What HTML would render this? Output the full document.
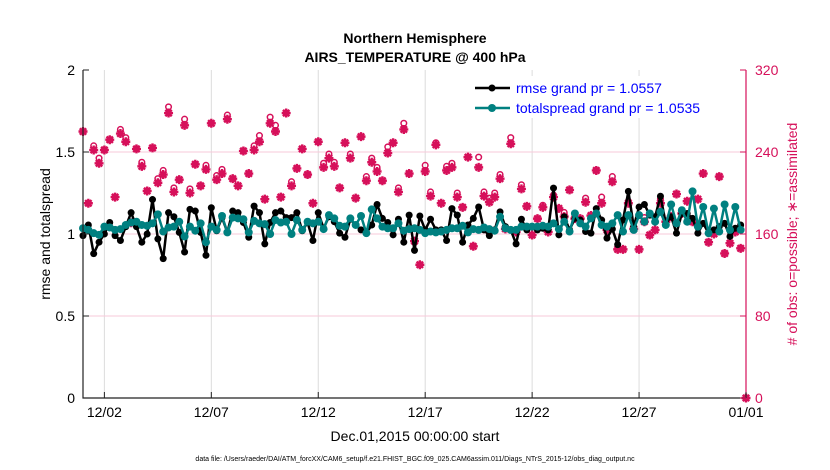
<!DOCTYPE html>
<html><head><meta charset="utf-8"><style>
body{margin:0;background:#fff;}
svg{display:block;font-family:"Liberation Sans",sans-serif;}
</style></head><body>
<svg id="c" width="830" height="470">
<rect x="0" y="0" width="830" height="470" fill="#fff"/>
<g id="grid"></g><g id="obs"></g><g id="series"></g><g id="axes"></g>
<text x="415" y="43" text-anchor="middle" font-size="14" font-weight="bold">Northern Hemisphere</text>
<text x="415" y="62" text-anchor="middle" font-size="14" font-weight="bold">AIRS_TEMPERATURE @ 400 hPa</text>
<text transform="translate(50,234) rotate(-90)" text-anchor="middle" font-size="14">rmse and totalspread</text>
<text transform="translate(797,234) rotate(-90)" text-anchor="middle" font-size="14" fill="#d6105a"># of obs: o=possible; ∗=assimilated</text>
<text x="415" y="441" text-anchor="middle" font-size="14">Dec.01,2015 00:00:00 start</text>
<text x="415" y="461" text-anchor="middle" font-size="7">data file: /Users/raeder/DAI/ATM_forcXX/CAM6_setup/f.e21.FHIST_BGC.f09_025.CAM6assim.011/Diags_NTrS_2015-12/obs_diag_output.nc</text>
<g>
<rect x="468" y="76" width="274" height="42" fill="#fff"/>
<line x1="475" y1="88" x2="510" y2="88" stroke="#000" stroke-width="2.5"/><circle cx="492" cy="88" r="3.5" fill="#000"/>
<text x="516" y="93" font-size="14" fill="#0000ff">rmse grand pr = 1.0557</text>
<line x1="475" y1="108" x2="510" y2="108" stroke="#008080" stroke-width="2.5"/><circle cx="492" cy="108" r="4" fill="#008080"/>
<text x="516" y="113" font-size="14" fill="#0000ff">totalspread grand pr = 1.0535</text>
</g>
</svg>
<script>
const rmse=[0.99,1.055,0.88,0.95,1.0,1.07,0.99,0.96,1.045,1.13,1.045,0.95,1.0,1.21,0.97,0.85,1.13,1.105,1.01,0.89,1.15,1.14,1.01,0.87,1.16,1.02,1.1,1.01,1.14,1.13,1.07,0.98,1.17,1.13,0.94,1.07,1.13,1.14,1.1,1.1,1.13,1.02,1.07,
0.96,1.13,1.035,1.105,1.075,1.005,0.98,1.09,1.055,1.025,1.005,1.055,1.18,1.095,1.07,0.995,1.09,0.95,1.115,0.9,1.11,1.025,1.09,1.025,1.025,0.96,1.155,1.115,0.95,1.055,1.095,1.165,1.025,0.99,1.025,1.135,1.045,1.025,0.94,1.09,1.025,
1.045,1.025,1.035,1.025,1.28,0.995,1.105,1.025,1.095,1.085,1.015,1.005,1.155,1.085,0.975,1.03,0.935,1.085,1.26,1.045,1.165,1.18,1.115,1.105,1.23,1.065,1.105,1.005,1.125,1.125,1.095,1.005,1.065,1.005,1.025,1.045,1.065,0.985,1.035,1.055];
const spread=[1.035,1.025,1.005,0.995,1.045,1.04,1.025,1.03,1.055,1.07,1.075,1.055,1.05,1.065,1.12,1.015,1.04,1.045,1.075,0.985,1.045,1.02,1.065,0.95,1.045,1.025,1.11,1.01,1.1,1.095,1.09,1.01,1.08,1.065,1.06,1.0,1.085,1.07,1.075,1.0,1.085,1.025,1.075,
1.065,1.075,1.03,1.115,1.095,1.05,1.045,1.095,1.055,1.11,1.005,1.15,1.095,1.045,1.035,1.035,1.065,1.02,1.03,1.035,1.025,1.005,1.015,1.01,1.015,1.025,1.035,1.035,1.05,1.01,1.03,1.025,1.04,1.03,1.02,1.105,1.035,1.025,1.025,1.045,1.045,
1.045,1.045,1.05,1.045,1.065,1.03,1.075,1.015,1.125,1.065,1.045,1.095,1.125,1.055,1.045,1.065,1.115,1.015,1.115,1.025,1.115,1.075,1.125,1.075,1.135,1.055,1.18,1.065,1.145,1.075,1.26,1.045,1.165,1.005,1.155,1.015,1.18,1.025,1.165,1.025];
const obsAssim=[260,190,242,229,242,252,196,258,250,171,243,226,202,244,210,218,278,201,213,266,200,228,207,223,268,213,219,272,214,207,241,219,242,250,194,268,260,196,278,207,224,243,218,
190,250,225,234,226,205,249,234,195,255,212,230,221,212,239,249,201,262,219,153,130,221,197,247,190,222,225,196,186,235,148,225,197,191,196,214,165,248,162,204,187,
159,175,186,162,196,185,177,203,175,175,191,178,222,190,164,211,145,145,190,165,145,172,159,164,190,172,177,199,180,192,172,194,219,152,160,216,141,151,162,146,0];
const obsPoss=[260,190,246,234,242,252,196,262,254,171,243,230,202,244,214,222,284,205,213,272,204,228,207,227,268,217,223,276,214,207,241,219,246,256,194,274,266,196,278,211,224,243,218,
190,250,229,238,230,205,249,238,195,255,216,234,225,212,245,249,205,268,219,153,130,227,201,249,190,226,229,200,186,235,148,235,201,195,200,218,165,254,162,208,187,
159,175,188,162,198,185,181,203,175,175,195,178,222,196,164,216,145,145,192,165,145,176,159,164,194,172,177,199,182,192,172,194,219,152,160,216,141,151,162,146,0];
const xTickLabels=["12/02","12/07","12/12","12/17","12/22","12/27","01/01"];
const xTickDays=[1,6,11,16,21,26,31];
const yTicks=[0,0.5,1,1.5,2];
const rTicks=[0,80,160,240,320];

const NS='http://www.w3.org/2000/svg';
const X0=83,X1=746,Y0=398,Y1=70;
const xDay=d=>X0+(X1-X0)*d/31;
const xIdx=i=>xDay(i/4);
const yL=v=>Y0-(Y0-Y1)*v/2;
const yR=v=>Y0-(Y0-Y1)*v/320;
function mk(tag,attrs,parent){const e=document.createElementNS(NS,tag);for(const k in attrs)e.setAttribute(k,attrs[k]);document.getElementById(parent).appendChild(e);return e;}
const PINK='#d6105a';
xTickDays.forEach((d,i)=>{const g=mk('line',{x1:xDay(d),x2:xDay(d),y1:Y1,y2:Y0,stroke:'#dcdcdc','stroke-width':1},'grid');

});
rTicks.slice(1,4).forEach(v=>{const g=mk('line',{x1:X0,x2:X1,y1:yR(v),y2:yR(v),stroke:'#f7c9da','stroke-width':1},'grid');

});
obsPoss.forEach((v,i)=>{const c=mk('circle',{cx:xIdx(i),cy:yR(v),r:2.8,fill:'none',stroke:PINK,'stroke-width':1.5},'obs');

});
obsAssim.forEach((v,i)=>{const x=xIdx(i),y=yR(v),s=4.5;
const p=mk('path',{d:`M${x-s},${y}H${x+s}M${x},${y-s}V${y+s}M${x-3.2},${y-3.2}L${x+3.2},${y+3.2}M${x-3.2},${y+3.2}L${x+3.2},${y-3.2}`,stroke:PINK,'stroke-width':2.4},'obs');

});
function series(arr,color,r,name){
const pts=arr.map((v,i)=>xIdx(i)+','+yL(v)).join(' ');
const l=mk('polyline',{points:pts,fill:'none',stroke:color,'stroke-width':2.5,'stroke-linejoin':'round'},'series');


arr.forEach((v,i)=>{const c=mk('circle',{cx:xIdx(i),cy:yL(v),r:r,fill:color},'series');

});}
series(rmse,'#000',3.5,'rmse');
series(spread,'#008080',4,'totalspread');
const ax=mk('path',{d:`M${X0},${Y1}V${Y0}H${X1}`,fill:'none',stroke:'#222','stroke-width':1.2},'axes');


const ra=mk('line',{x1:X1,x2:X1,y1:Y1,y2:Y0,stroke:PINK,'stroke-width':1.2},'axes');


xTickDays.forEach((d,i)=>{const x=xDay(d);
mk('line',{x1:x,x2:x,y1:Y0,y2:Y0-6,stroke:'#222'},'axes');
const t=mk('text',{x:x,y:Y0+19,'text-anchor':'middle','font-size':14},'axes');t.textContent=xTickLabels[i];

});
yTicks.forEach(v=>{const y=yL(v);
mk('line',{x1:X0,x2:X0+6,y1:y,y2:y,stroke:'#222'},'axes');
const t=mk('text',{x:X0-8,y:y+5,'text-anchor':'end','font-size':14},'axes');t.textContent=String(v);

});
rTicks.forEach(v=>{const y=yR(v);
mk('line',{x1:X1,x2:X1-6,y1:y,y2:y,stroke:PINK},'axes');
const t=mk('text',{x:X1+9,y:y+5,'font-size':14,fill:PINK},'axes');t.textContent=String(v);

});
</script>
</body></html>
